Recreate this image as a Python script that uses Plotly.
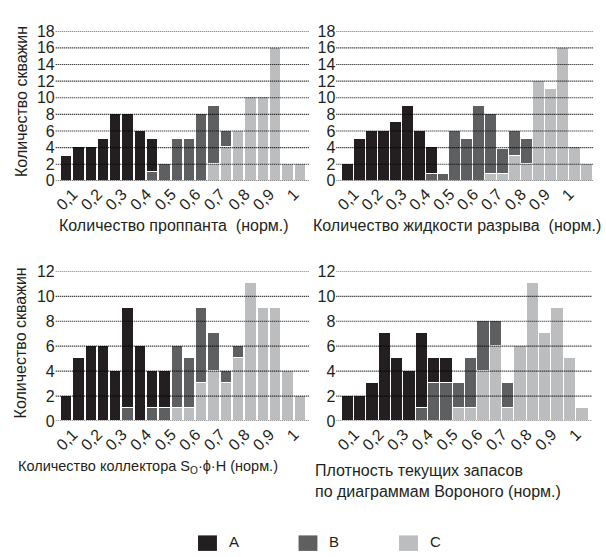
import plotly.graph_objects as go

# Bin centres (bin width 0.05)
centers_20 = [0.075, 0.125, 0.175, 0.225, 0.275, 0.325, 0.375, 0.425, 0.475, 0.525,
              0.575, 0.625, 0.675, 0.725, 0.775, 0.825, 0.875, 0.925, 0.975, 1.025]
centers_21 = centers_20 + [1.075]

tick_vals = [0.1, 0.2, 0.3, 0.4, 0.5, 0.6, 0.7, 0.8, 0.9, 1.0]
tick_text = ["0,1", "0,2", "0,3", "0,4", "0,5", "0,6", "0,7", "0,8", "0,9", "1"]

# Количество проппанта
prop_A = [3, 4, 4, 5, 8, 8, 6, 4, 0, 0, 0, 0, 0, 0, 0, 0, 0, 0, 0, 0]
prop_B = [0, 0, 0, 0, 0, 0, 0, 1, 2, 5, 5, 8, 7, 2, 0, 0, 0, 0, 0, 0]
prop_C = [0, 0, 0, 0, 0, 0, 0, 0, 0, 0, 0, 0, 2, 4, 6, 10, 10, 16, 2, 2]

# Количество жидкости разрыва
fluid_A = [2, 5, 6, 6, 7, 9, 6, 3.2, 0, 0, 0, 0, 0, 0, 0, 0, 0, 0, 0, 0, 0]
fluid_B = [0, 0, 0, 0, 0, 0, 0, 0.8, 0.8, 6, 5, 9, 7.2, 3.0, 3, 3, 0, 0, 0, 0, 0]
fluid_C = [0, 0, 0, 0, 0, 0, 0, 0, 0, 0, 0, 0, 0.8, 0.8, 3, 2, 12, 11, 16, 4, 2]

# Количество коллектора
coll_A = [2, 5, 6, 6, 4, 8, 6, 3, 3, 0, 0, 0, 0, 0, 0, 0, 0, 0, 0, 0]
coll_B = [0, 0, 0, 0, 0, 1, 0, 1, 1, 5, 4, 6, 3, 1, 1, 0, 0, 0, 0, 0]
coll_C = [0, 0, 0, 0, 0, 0, 0, 0, 0, 1, 1, 3, 4, 3, 5, 11, 9, 9, 4, 2]

# Плотность текущих запасов
vor_A = [2, 2, 3, 7, 5, 4, 6, 2, 2, 0, 0, 0, 0, 0, 0, 0, 0, 0, 0, 0]
vor_B = [0, 0, 0, 0, 0, 0, 1, 3, 3, 2, 4, 4, 2, 2, 0, 0, 0, 0, 0, 0]
vor_C = [0, 0, 0, 0, 0, 0, 0, 0, 0, 1, 1, 4, 6, 1, 6, 11, 7, 9, 5, 1]

colors = {"A": "#231f20", "B": "#5e5f61", "C": "#bcbdbf"}

W, H = 606, 557
FONT = "Liberation Sans, Arial, sans-serif"
text_color = "#231f20"


def px_x(p):
    return p / W


def px_y(p):
    return 1 - p / H


panels = [
    # (x centres, A, B, C, axis suffix, x domain px, y domain px, x range, y max)
    (centers_20, prop_A, prop_B, prop_C, "", (53, 308), (24, 178.3), (0.0298, 1.062), 18),
    (centers_21, fluid_A, fluid_B, fluid_C, "2", (335, 593), (24, 178.3), (0.025, 1.10), 18),
    (centers_20, coll_A, coll_B, coll_C, "3", (53, 308), (271.7, 426), (0.0298, 1.062), 12),
    (centers_20, vor_A, vor_B, vor_C, "4", (335, 592), (271.7, 426), (0.027, 1.063), 12),
]

fig = go.Figure()
shapes = []
for xs, a, b, c, suf, xd, yd, xr, ymax in panels:
    for name, vals in (("C", c), ("B", b), ("A", a)):
        fig.add_trace(go.Bar(
            x=xs, y=[v if v else None for v in vals], width=0.05, name=name,
            marker=dict(color=colors[name], line=dict(color="white", width=1.3)),
            xaxis="x" + suf, yaxis="y" + suf, showlegend=False,
        ))
    fig.layout["xaxis" + suf] = dict(
        domain=[px_x(xd[0]), px_x(xd[1])], range=list(xr), anchor="y" + suf,
        tickmode="array", tickvals=tick_vals, ticktext=tick_text, tickangle=-45,
        ticks="", showgrid=False, zeroline=False, showline=False,
        tickfont=dict(size=16, color=text_color, family=FONT),
    )
    fig.layout["yaxis" + suf] = dict(
        domain=[px_y(yd[1]), px_y(yd[0])], range=[0, ymax], anchor="x" + suf,
        tickmode="linear", tick0=0, dtick=2, ticks="", showline=False, zeroline=False,
        showgrid=False, tickfont=dict(size=16, color=text_color, family=FONT),
    )
    # dotted horizontal guide lines at every y tick, drawn over the bars
    for v in range(0, ymax + 1, 2):
        shapes.append(dict(type="line", xref="x" + suf + " domain", yref="y" + suf,
                           x0=0, x1=1, y0=v, y1=v, layer="above",
                           line=dict(color="#000000", width=1.2, dash="1px,1px")))

annotations = [
    dict(text="Количество проппанта  (норм.)", x=px_x(172), y=px_y(224), size=16),
    dict(text="Количество жидкости разрыва  (норм.)", x=px_x(456), y=px_y(224), size=16),
    dict(text="Количество коллектора S<sub>O</sub>·ϕ·H (норм.)", x=px_x(146), y=px_y(473), size=14.5),
    dict(text="Плотность текущих запасов<br>по диаграммам Вороного (норм.)",
         x=px_x(312), y=px_y(488), xanchor="left", align="left", size=16),
    dict(text="Количество скважин", x=px_x(18), y=px_y(96), textangle=-90, size=16),
    dict(text="Количество скважин", x=px_x(18), y=px_y(345), textangle=-90, size=16),
]
for ann in annotations:
    ann.setdefault("xanchor", "center")
    size = ann.pop("size")
    ann.update(xref="paper", yref="paper", yanchor="middle", showarrow=False,
               font=dict(size=size, color=text_color, family=FONT))

# Legend swatches and labels along the bottom edge
legend_items = [("A", 196, 225), ("B", 297, 326), ("C", 398, 427)]
for name, sx, tx in legend_items:
    shapes.append(dict(type="rect", xref="paper", yref="paper",
                       x0=px_x(sx), x1=px_x(sx + 19), y0=px_y(560), y1=px_y(544),
                       fillcolor=colors[name], line=dict(width=0)))
    annotations.append(dict(text=name, xref="paper", yref="paper", x=px_x(tx), y=px_y(550),
                            xanchor="left", yanchor="middle", showarrow=False,
                            font=dict(size=15, color=text_color, family=FONT)))

fig.update_layout(
    width=W, height=H, margin=dict(l=0, r=0, t=0, b=0),
    paper_bgcolor="white", plot_bgcolor="white",
    barmode="stack", bargap=0, showlegend=False,
    annotations=annotations, shapes=shapes,
    font=dict(family=FONT, color=text_color),
)

fig.write_html("out.html")
